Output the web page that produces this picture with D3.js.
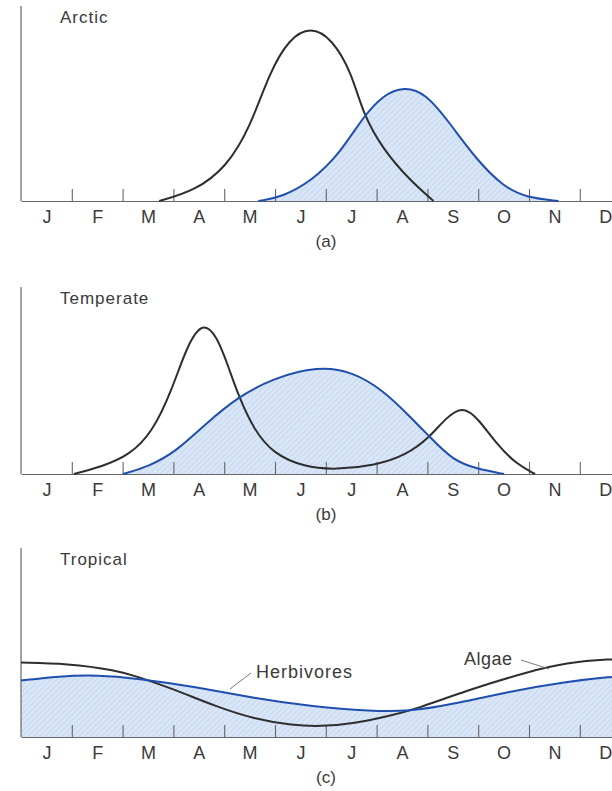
<!DOCTYPE html>
<html>
<head>
<meta charset="utf-8">
<script src="https://cdn.jsdelivr.net/npm/d3@7"></script>
<style>
  body { margin: 0; background: #fff; }
  text { font-family: "Liberation Sans", Arial, Helvetica, sans-serif; fill: #3a3a3a; }
</style>
</head>
<body>
<div id="chart"></div>
<script>
// month letters, one per month
const months = ["J", "F", "M", "A", "M", "J", "J", "A", "S", "O", "N", "D"];

// [month position (0 = start of Jan), relative abundance]
const arcticAlgae = [
  [2.72, 0], [3.43, 6], [4.05, 20], [4.51, 43], [4.89, 75], [5.28, 95], [5.70, 102],
  [6.12, 95], [6.51, 75], [6.73, 51], [7.13, 30], [7.66, 12], [8.12, 0]
];
const arcticHerbivores = [
  [4.67, 0], [5.12, 2], [5.74, 12], [6.28, 28], [6.73, 49], [7.13, 62], [7.54, 67],
  [7.97, 63], [8.43, 46], [8.97, 24], [9.51, 8], [9.96, 2], [10.58, 0]
];
const temperateAlgae = [
  [1.04, 0], [1.59, 4.3], [2.13, 11], [2.58, 24], [2.97, 49], [3.28, 76], [3.58, 89],
  [3.85, 81], [4.08, 63], [4.29, 45], [4.59, 25.7], [4.96, 12], [5.58, 4], [6.20, 2.5],
  [6.97, 5], [7.58, 11], [8.05, 21.6], [8.35, 32.5], [8.70, 40], [9.01, 32],
  [9.35, 18], [9.74, 6], [10.12, 0]
];
const temperateHerbivores = [
  [2.01, 0], [2.51, 4.3], [3.05, 13], [3.66, 30], [4.27, 45], [4.96, 56], [5.85, 63],
  [6.51, 60], [7.13, 49], [7.66, 33.5], [8.05, 21.6], [8.50, 8], [8.97, 3], [9.51, 0]
];
const tropicalAlgae = [
  [0, 43.5], [0.9, 43], [1.89, 39], [2.28, 35.5], [3.05, 27.5], [3.82, 18], [4.59, 10.5],
  [5.35, 6.8], [5.89, 6.2], [6.51, 7.6], [7.28, 12.5], [7.74, 16], [8.80, 27.5],
  [9.96, 38], [10.73, 43.5], [11.63, 45.6], [12, 45.6]
];
const tropicalHerbivores = [
  [0, 33], [0.74, 35.6], [1.51, 36.3], [2.28, 34.3], [3.43, 29.4], [4.59, 22.6],
  [5.74, 17.7], [6.89, 15], [7.66, 15], [8.43, 18.7], [9.59, 26.5], [10.73, 32.3],
  [11.63, 35.3], [12, 35.8]
];

const panelTitles = ["Arctic", "Temperate", "Tropical"];
const panelLetters = ["(a)", "(b)", "(c)"];

const width = 612, height = 791;
const svg = d3.select("#chart").append("svg")
    .attr("width", width)
    .attr("height", height);

// hatched light blue fill
const defs = svg.append("defs");
const pat = defs.append("pattern")
    .attr("id", "hatch")
    .attr("patternUnits", "userSpaceOnUse")
    .attr("width", 4).attr("height", 4)
    .attr("patternTransform", "rotate(45)");
pat.append("rect").attr("width", 4).attr("height", 4).attr("fill", "#d9e6f7");
pat.append("line").attr("x1", 0).attr("y1", 0).attr("x2", 0).attr("y2", 4)
    .attr("stroke", "#bfd3ee").attr("stroke-width", 1.4);

const x = d3.scaleLinear().domain([0, 12]).range([21, 21 + 12 * 50.8]);

const panels = [
  { base: 201, top: 6, algae: arcticAlgae, herb: arcticHerbivores },
  { base: 474, top: 287, algae: temperateAlgae, herb: temperateHerbivores },
  { base: 737, top: 548, algae: tropicalAlgae, herb: tropicalHerbivores }
];

const smooth = d3.curveBasis;

panels.forEach((p, i) => {
    const y = d3.scaleLinear().domain([0, 100]).range([p.base, p.base - 171]);
    const g = svg.append("g");

    const area = d3.area()
        .x(d => x(d[0]))
        .y0(p.base)
        .y1(d => y(d[1]))
        .curve(smooth);
    const line = d3.line()
        .x(d => x(d[0]))
        .y(d => y(d[1]))
        .curve(smooth);

    g.append("path").datum(p.herb).attr("d", area).attr("fill", "url(#hatch)");

    // axes
    g.append("line")
        .attr("x1", 21).attr("x2", 21).attr("y1", p.top).attr("y2", p.base)
        .attr("stroke", "#666").attr("stroke-width", 1.2);

    const tickAxis = d3.axisBottom(x)
        .tickValues(d3.range(1, 12))
        .tickSizeInner(-12)
        .tickSizeOuter(0)
        .tickFormat("");
    const ta = g.append("g").attr("transform", `translate(0,${p.base})`).call(tickAxis);
    ta.select(".domain").attr("stroke", "#666").attr("stroke-width", 1.2);
    ta.selectAll(".tick line").attr("stroke", "#666").attr("stroke-width", 1.1);

    const labelAxis = d3.axisBottom(x)
        .tickValues(d3.range(12).map(m => m + 0.5))
        .tickSize(0)
        .tickPadding(9)
        .tickFormat((d, k) => months[k]);
    const la = g.append("g").attr("transform", `translate(0,${p.base})`).call(labelAxis);
    la.select(".domain").remove();
    la.selectAll("text")
        .attr("font-size", 18)
        .attr("font-family", "Liberation Sans, Arial, sans-serif")
        .attr("fill", "#444");

    g.append("path").datum(p.algae).attr("d", line)
        .attr("fill", "none").attr("stroke", "#2e2e2e").attr("stroke-width", 2);
    g.append("path").datum(p.herb).attr("d", line)
        .attr("fill", "none").attr("stroke", "#1f4fae").attr("stroke-width", 2);

    g.append("text")
        .attr("x", 60).attr("y", p.top + 17)
        .attr("font-size", 17)
        .attr("letter-spacing", 1)
        .text(panelTitles[i]);

    g.append("text")
        .attr("x", 326).attr("y", p.base + 46)
        .attr("text-anchor", "middle")
        .attr("font-size", 17)
        .text(panelLetters[i]);
});

// labels for the tropical panel
svg.append("line").attr("x1", 230).attr("y1", 689).attr("x2", 251).attr("y2", 673)
    .attr("stroke", "#777").attr("stroke-width", 1);
svg.append("text").attr("x", 256).attr("y", 678).attr("font-size", 18)
    .attr("letter-spacing", 1).text("Herbivores");
svg.append("line").attr("x1", 521).attr("y1", 660).attr("x2", 549).attr("y2", 669)
    .attr("stroke", "#777").attr("stroke-width", 1);
svg.append("text").attr("x", 464).attr("y", 665).attr("font-size", 18)
    .attr("letter-spacing", 0.5).text("Algae");
</script>
</body>
</html>
